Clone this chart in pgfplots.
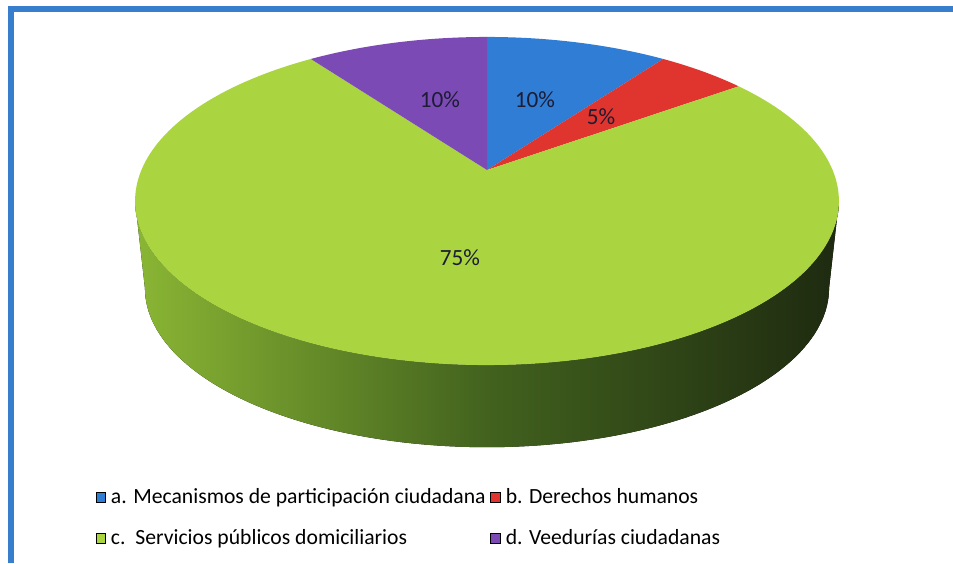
\documentclass[border=0pt]{standalone}
\usepackage{pgfplots}
\pgfplotsset{compat=1.18}
\usepackage{pgfplotstable}
\usepgfplotslibrary{fillbetween}
\usepackage{fontspec}
\setmainfont{Carlito}

\definecolor{cA}{RGB}{47,125,213}
\definecolor{cB}{RGB}{224,52,46}
\definecolor{cC}{RGB}{170,212,64}
\definecolor{cD}{RGB}{124,74,180}
\definecolor{framec}{RGB}{55,126,206}
\definecolor{sideL}{RGB}{138,182,52}
\definecolor{sideM}{RGB}{66,98,30}
\definecolor{sideR}{RGB}{30,42,16}
\definecolor{lbl}{RGB}{28,28,52}

\pgfplotstableread{
cat pct
a 10
b 5
c 75
d 10
}\pietable
\pgfplotstablegetelem{0}{pct}\of\pietable \let\pa\pgfplotsretval
\pgfplotstablegetelem{1}{pct}\of\pietable \let\pb\pgfplotsretval
\pgfplotstablegetelem{2}{pct}\of\pietable \let\pc\pgfplotsretval
\pgfplotstablegetelem{3}{pct}\of\pietable \let\pd\pgfplotsretval
\pgfmathsetmacro\aA{0}
\pgfmathsetmacro\aB{3.6*\pa}
\pgfmathsetmacro\aC{\aB+3.6*\pb}
\pgfmathsetmacro\aD{\aC+3.6*\pc}
\pgfmathsetmacro\aE{\aD+3.6*\pd}

\begin{document}%
\begin{tikzpicture}
\begin{axis}[
  scale only axis, width=14cm, height=8.2707cm,
  xmin=0, xmax=953, ymin=0, ymax=563,
  hide axis, clip=true,
  declare function={
    px(\t)=487+345.6*sin(\t)/(1+0.189*cos(\t));
    py(\t)=393+158.2*cos(\t)/(1+0.189*cos(\t));
    bx(\t)=487+0.972*345.6*sin(\t)/(1+0.189*cos(\t));
    by(\t)=305+0.97*158.2*cos(\t)/(1+0.189*cos(\t));
  },
  legend columns=2,
  legend cell align=left,
  legend image code/.code={\fill[#1] (0pt,-2pt) rectangle (4pt,2pt);},
  legend style={draw=none, fill=none, at={(axis cs:88,45)}, anchor=west,
    font=\fontsize{9.05}{10}\selectfont, row sep=5.3pt,
    /tikz/every even column/.append style={column sep=0pt}},
]
% frame
\addplot[draw=framec, line width=2.5pt, forget plot] coordinates {(11,0) (11,554) (953,554)};
% side
\addplot[draw=none, name path=topf, domain=100.9:259.1, samples=100, variable=\t, forget plot] ({px(\t)},{py(\t)});
\addplot[draw=none, name path=botf, domain=100.9:259.1, samples=100, variable=\t, forget plot] ({bx(\t)},{by(\t)});
\addplot[left color=sideL, right color=sideR, middle color=sideM, forget plot] fill between[of=topf and botf];
% top slices
\addplot[fill=cA, draw=none, domain=\aA:\aB, samples=30, variable=\t, forget plot] ({px(\t)},{py(\t)}) -- (axis cs:487,393) -- cycle;
\addplot[fill=cB, draw=none, domain=\aB:\aC, samples=20, variable=\t, forget plot] ({px(\t)},{py(\t)}) -- (axis cs:487,393) -- cycle;
\addplot[fill=cC, draw=none, domain=\aC:\aD, samples=160, variable=\t, forget plot] ({px(\t)},{py(\t)}) -- (axis cs:487,393) -- cycle;
\addplot[fill=cD, draw=none, domain=\aD:\aE, samples=30, variable=\t, forget plot] ({px(\t)},{py(\t)}) -- (axis cs:487,393) -- cycle;
% labels
\node[lbl, font=\fontsize{9.7}{10}\selectfont] at (axis cs:440,463) {\pd\%};
\node[lbl, font=\fontsize{9.7}{10}\selectfont] at (axis cs:535,463) {\pa\%};
\node[lbl, font=\fontsize{9.7}{10}\selectfont] at (axis cs:601,446) {\pb\%};
\node[lbl, font=\fontsize{9.7}{10}\selectfont] at (axis cs:460,305) {\pc\%};
% legend
\addlegendimage{fill=cA}
\addlegendentry{a. Mecanismos de participación ciudadana}
\addlegendimage{fill=cB}
\addlegendentry{b. Derechos humanos}
\addlegendimage{fill=cC}
\addlegendentry{c.\ \ Servicios públicos domiciliarios}
\addlegendimage{fill=cD}
\addlegendentry{d. Veedurías ciudadanas}
\end{axis}
\pgfresetboundingbox
\path[use as bounding box] (current axis.south west) rectangle (current axis.north east);
\end{tikzpicture}%
\end{document}
